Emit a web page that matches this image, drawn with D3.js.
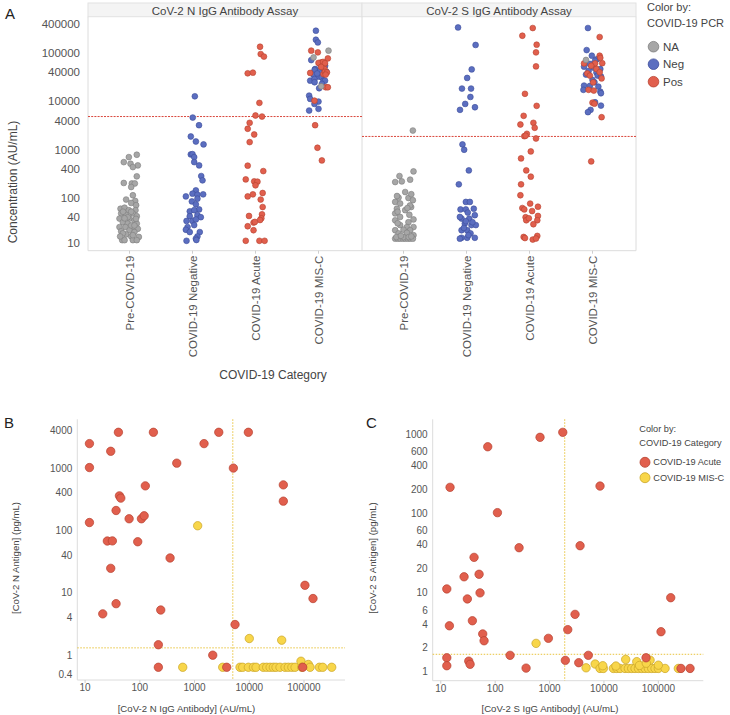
<!DOCTYPE html>
<html><head><meta charset="utf-8">
<script src="https://cdn.jsdelivr.net/npm/d3@7"></script>
<style>body{margin:0;background:#fff;} svg text{font-family:"Liberation Sans",Arial,sans-serif;}</style>
</head><body><svg id="c" width="730" height="715"></svg>
<script>
// ---------------- DATA ----------------
const categories = ["Pre-COVID-19","COVID-19 Negative","COVID-19 Acute","COVID-19 MIS-C"];
const assays = ["CoV-2 N IgG Antibody Assay","CoV-2 S IgG Antibody Assay"];
const pcrLevels = ["NA","Neg","Pos"];
const yTicksA = [10,40,100,400,1000,4000,10000,40000,100000,400000];
const cutoffsA = [4870,1885];
// [concentration, jitter(-1..1)]
const nPreNA = [[788,0.56],[703,-0.05],[554,-0.44],[513,0.08],[474,0.64],[437,0.26],[281,0.56],[205,-0.44],[200,0.18],[200,0.41],[169,0.13],[114,0.26],[93,-0.26],[87,0.44],[79,0.13],[71,0.51],[60,-0.69],[63,-0.38],[56,-0.05],[56,0.46],[48,-0.64],[44,-0.26],[48,0.26],[42,0.56],[37.5,-0.77],[37.5,0],[34.5,0.38],[31.5,-0.51],[29.5,-0.13],[29.5,0.56],[25,-0.77],[25,-0.31],[24.5,0.26],[23,0.64],[20.5,-0.64],[21.5,0],[19.7,0.38],[17.6,-0.26],[15.6,0.72],[16,0.13],[13.4,-0.56],[13.4,-0.38],[13.4,0.26],[13.4,0.56],[52,-0.5],[52,0.13],[40,-0.13],[37,0.5],[38,-0.38],[27,0.13],[18.5,-0.51],[17,0.26],[16,-0.72],[27,0.38]];
const nNegNeg = [[12800,0.18],[4640,0.02],[3220,0.5],[1880,-0.13],[1480,0.26],[1290,0.85],[800,-0.13],[810,0.0],[703,0.13],[555,0.13],[474,0.51],[285,0.67],[232,0.77],[144,0.26],[123,0.0],[117,0.38],[119,0.82],[108,-0.51],[85,-0.05],[97,0.38],[74,0.26],[53,-0.21],[58,0.51],[56,0.13],[44,0.38],[42,-0.21],[40,0.64],[33.5,-0.46],[33.5,0.0],[36,0.26],[25,-0.38],[27.5,0.13],[22,-0.51],[19.7,-0.21],[19.7,0.56],[16,0.38],[14.4,0.26],[13,-0.46],[13.5,0.3]];
const nAcutePos = [[136000,0.35],[96000,0.4],[85000,0.65],[38300,-0.6],[39500,-0.2],[9350,0.3],[5120,0.0],[4870,0.5],[3610,-0.45],[2720,-0.6],[2070,-0.1],[1440,-0.45],[468,-0.6],[361,0.6],[243,-0.75],[221,-0.1],[218,0.15],[183,0.0],[108,-0.6],[119,-0.2],[127,0.55],[93,0.4],[65,0.55],[46,0.5],[38,0.45],[35,0.35],[42.5,-0.5],[31,-0.15],[32,-0.05],[26,-0.6],[21.5,-0.15],[13,-0.75],[13,0.3],[13,0.7]];
const nMiscNeg = [[292000,-0.2],[190000,-0.2],[167000,-0.05],[72000,-0.56],[55000,0.51],[47000,-0.26],[43500,0.13],[45000,-0.3],[41500,0.6],[35500,-0.38],[32700,0.0],[31600,0.25],[27000,-0.64],[29200,-0.31],[27000,0.38],[25000,-0.3],[27000,0.5],[23200,0.26],[18800,0.05],[13200,-0.72],[11300,-0.64],[9950,0.0],[8900,-0.31],[6490,-0.72],[7030,0.0],[38000,-0.1],[50000,0.3],[60000,0.1]];
const nMiscPos = [[113000,-0.56],[104000,-0.05],[78000,0.72],[64500,0.21],[63000,0.0],[66000,0.35],[62000,0.5],[47000,0.46],[39000,-0.64],[37000,0.38],[41000,0.5],[40000,0.65],[36000,0.55],[19700,0.56],[19700,0.72],[10400,-0.31],[3220,-0.26],[1100,-0.08],[600,0.26],[52000,0.2]];
const nMiscNA = [[113000,0.77],[81800,-0.38],[20600,0.21]];
const sPreNA = [[2500,0.72],[356,0.77],[285,-0.31],[214,-0.64],[221,-0.13],[240,0.51],[133,0.13],[102,-0.38],[100,0.38],[90,0.72],[65,0.59],[83,-0.64],[77,-0.26],[60,-0.51],[56,0.13],[48,-0.64],[36,0.77],[40.5,-0.26],[34.5,-0.64],[31.5,0.38],[25,0.77],[27.5,-0.26],[25,0.26],[21.5,-0.64],[22,0.0],[21.5,0.51],[18.5,-0.38],[19,0.26],[17,0.77],[14.4,-0.64],[14.4,-0.44],[14.4,-0.26],[14.4,-0.05],[14.4,0.13],[14.4,0.33],[14.4,0.51],[14.4,0.72],[15.5,-0.55],[15.5,0.0],[15.5,0.4],[16.5,-0.2],[16,0.6],[70,0.5],[45,0.45],[52,-0.45],[30,-0.45],[62,0.3],[110,-0.5],[120,0.6]];
const sNegNeg = [[341000,-0.65],[148000,0.7],[46200,0.4],[30700,0.05],[18500,-0.35],[18500,0.35],[12400,0.3],[8900,-0.1],[6700,-0.5],[7590,0.65],[1290,-0.31],[1000,-0.18],[373,0.18],[192,-0.59],[83,-0.05],[83,0.26],[58,-0.46],[58,-0.05],[60,0.56],[37.5,-0.38],[37.5,0.21],[44,0.64],[40.5,-0.51],[27.5,0.38],[27.5,0.72],[21.5,-0.38],[21.5,0.05],[29.5,-0.13],[15,-0.38],[15,0.05],[15,0.64],[14.4,-0.51],[18.5,0.31],[31.5,0.46],[50,0.1],[24,-0.2],[17,0.15],[33,-0.05]];
const sAcutePos = [[332000,0.25],[230000,-0.55],[150000,0.55],[104000,0.5],[53300,0.5],[14400,-0.35],[8110,0.55],[5040,-0.45],[3330,-0.7],[3610,0.3],[2850,0.4],[2140,-0.2],[1910,-0.4],[1950,-0.3],[1710,0.5],[922,0.1],[661,-0.65],[373,-0.25],[277,0.1],[192,-0.65],[114,-0.7],[62,-0.55],[58,-0.4],[76.6,0.05],[66,0.65],[53.7,0.2],[40,-0.3],[34.6,-0.25],[42.5,0.65],[34.6,0.6],[28.6,0.3],[38,-0.05],[15.6,-0.45],[14.8,-0.35],[13.8,0.25],[16.4,0.6],[14.5,0.5]];
const sMiscNeg = [[332000,-0.35],[116000,-0.45],[88700,-0.05],[75000,0.35],[60000,-0.2],[52600,-0.65],[50000,0.1],[47100,0.6],[43000,-0.3],[40000,0.3],[36000,-0.5],[34300,0.4],[33000,0.65],[28000,0.0],[21300,-0.65],[20300,0.45],[21000,-0.2],[17400,-0.7],[16000,0.6],[14800,0.65],[8200,0.65],[6700,-0.15],[9620,0.2],[6000,-0.35],[25000,0.15],[70000,0.2]];
const sMiscPos = [[216000,0.55],[88700,0.55],[80000,0.6],[61500,-0.65],[61500,0.2],[62000,0.75],[55000,-0.1],[47100,0.3],[40300,0.55],[38000,-0.4],[34300,-0.2],[30000,0.7],[24900,0.05],[17400,-0.3],[16800,0.1],[9450,0.0],[9000,0.15],[4720,0.7],[573,-0.1]];
const sMiscNA = [[72400,-0.5]];

// Panel B: [N IgG antibody (AU/mL), N antigen (pg/mL)]
const bAcute = [[40.6,3750],[177,3750],[2770,3750],[9620,3750],[12,2470],[1490,2470],[29.4,1860],[12,1020],[473,1200],[5120,1000],[126,519],[41900,538],[42.4,359],[44.9,330],[41900,295],[36.8,209],[63.7,154],[107,154],[120,172],[12,134],[25.5,67.7],[31.5,68],[91.5,65.9],[357,36.2],[29.4,24.7],[36.8,6.7],[21,4.6],[241,5.3],[104000,13.2],[146000,8.1],[5490,3.1],[218,1.47],[2150,1.0],[218,0.64],[3870,0.64],[94600,0.64]];
const bMisc = [[1140,119],[10000,1.85],[39100,1.74],[88100,0.8],[120000,0.71],[608,0.64],[3270,0.64],[6770,0.64],[7580,0.64],[9620,0.64],[11900,0.64],[13300,0.64],[18000,0.64],[20800,0.64],[24000,0.64],[27500,0.64],[30800,0.64],[36400,0.64],[45000,0.64],[51700,0.64],[60000,0.64],[68600,0.64],[90700,0.64],[129000,0.64],[191000,0.64],[220000,0.64],[321000,0.64]];
// Panel C: [S IgG antibody (AU/mL), S antigen (pg/mL)]
const cAcute = [[1750,1054],[668,912],[73,693],[14.8,213],[8470,221],[110,102],[275,36.8],[3640,39],[40.9,27.8],[50.6,17],[26.8,15.8],[12.9,11.1],[52.7,9.9],[30.8,8.3],[169000,8.6],[2940,5.3],[38.1,4.4],[14.4,3.8],[2160,3.4],[112000,3.2],[59,3.0],[62.5,2.46],[951,2.64],[188,1.61],[5160,1.61],[12.9,1.5],[59400,1.5],[1950,1.39],[32.7,1.36],[3440,1.3],[34.6,1.24],[12.9,1.19],[370,1.11],[261000,1.1],[383000,1.1]];
const cMisc = [[565,2.28],[4690,1.12],[6890,1.25],[8470,1.1],[9750,1.1],[14900,1.1],[17200,1.1],[19800,1.1],[24400,1.1],[28100,1.1],[32400,1.1],[37300,1.1],[43000,1.1],[49500,1.1],[57000,1.1],[65500,1.1],[75600,1.1],[86900,1.1],[100000,1.1],[133000,1.1],[233000,1.1],[25100,1.43],[40100,1.34],[70500,1.4],[100000,1.21],[9510,1.19],[16600,1.18],[45000,1.2],[60000,1.28]];
const xTicksBC = [10,100,1000,10000,100000];
const yTicksB = [0.4,1,4,10,40,100,400,1000,4000];
const yTicksC = [1,2,4,6,10,20,40,60,100,200,400,600,1000];
const cutB = [5000,1.31];
const cutC = [1900,1.66];
const catLevels = ["COVID-19 Acute","COVID-19 MIS-C"];

// ---------------- DRAW ----------------
const svg = d3.select("#c");
const fillPCR = d3.scaleOrdinal().domain(pcrLevels).range(["#a6a6a6","#5b6ec0","#e15f4d"]);
const strokePCR = d3.scaleOrdinal().domain(pcrLevels).range(["#7e7e7e","#3d4d9a","#b6412f"]);
const fillCat = d3.scaleOrdinal().domain(catLevels).range(["#e15f4d","#f8d64a"]);
const strokeCat = d3.scaleOrdinal().domain(catLevels).range(["#b6412f","#c9a426"]);
const tickCol = "#555", titleCol = "#444", axisCol = "#dcdcdc";

// Panel A
const aTop = 16.7, aBot = 250.7;
const yA = d3.scaleLog().domain([8.1,570000]).range([aBot,aTop]);
const panelX = d3.scaleBand().domain(assays).range([88,636]);
const xCat = d3.scalePoint().domain(categories).range([41.5,230.5]);
const jit = d3.scaleLinear().domain([-1,1]).range([-13,13]);

const gA = svg.append("g");
assays.forEach(a=>{
  gA.append("rect").attr("x",panelX(a)).attr("y",3).attr("width",panelX.bandwidth()).attr("height",aTop-3)
    .attr("fill","#f4f4f4").attr("stroke","#e2e2e2").attr("stroke-width",1);
  gA.append("text").attr("x",panelX(a)+panelX.bandwidth()/2).attr("y",10.5).attr("text-anchor","middle")
    .attr("dominant-baseline","central").attr("font-size","11.5px").attr("fill",titleCol).text(a);
});
[88,362,636].forEach(x=>gA.append("line").attr("x1",x).attr("x2",x).attr("y1",aTop).attr("y2",aBot).attr("stroke",axisCol));
gA.append("line").attr("x1",88).attr("x2",636).attr("y1",aBot).attr("y2",aBot).attr("stroke",axisCol);

yTicksA.forEach(v=>{
  gA.append("text").attr("x",80).attr("y",Math.min(yA(v),aBot-8)).attr("text-anchor","end")
    .attr("dominant-baseline","central").attr("font-size","11.5px").attr("fill",tickCol).text(v);
});
assays.forEach((a,i)=>{
  gA.append("line").attr("x1",panelX(a)).attr("x2",panelX(a)+panelX.bandwidth())
    .attr("y1",yA(cutoffsA[i])).attr("y2",yA(cutoffsA[i])).attr("stroke","#d9473c").attr("stroke-width",1).attr("stroke-dasharray","2,1.2");
  categories.forEach(c=>{
    const cx = panelX(a)+xCat(c);
    gA.append("line").attr("x1",cx).attr("x2",cx).attr("y1",aBot).attr("y2",aBot+3).attr("stroke","#cfcfcf");
    gA.append("text").attr("transform",`translate(${cx},${aBot+5}) rotate(-90)`).attr("text-anchor","end")
      .attr("dominant-baseline","central").attr("font-size","11.5px").attr("fill",tickCol).text(c);
  });
});

const groupsA = [
  [0,0,"NA",nPreNA],[0,1,"Neg",nNegNeg],[0,2,"Pos",nAcutePos],[0,3,"Neg",nMiscNeg],[0,3,"Pos",nMiscPos],[0,3,"NA",nMiscNA],
  [1,0,"NA",sPreNA],[1,1,"Neg",sNegNeg],[1,2,"Pos",sAcutePos],[1,3,"Neg",sMiscNeg],[1,3,"Pos",sMiscPos],[1,3,"NA",sMiscNA]
];
groupsA.forEach(([ai,ci,p,pts])=>{
  const x0 = panelX(assays[ai])+xCat(categories[ci]);
  gA.append("g").selectAll("circle").data(pts).join("circle")
    .attr("cx",d=>x0+jit(d[1])).attr("cy",d=>yA(d[0])).attr("r",2.9)
    .attr("fill",fillPCR(p)).attr("stroke",strokePCR(p)).attr("stroke-width",0.6);
});
gA.append("text").attr("transform","translate(13,182) rotate(-90)").attr("text-anchor","middle")
  .attr("dominant-baseline","central").attr("font-size","12px").attr("fill",titleCol).text("Concentration (AU/mL)");
gA.append("text").attr("x",273).attr("y",375).attr("text-anchor","middle").attr("dominant-baseline","central")
  .attr("font-size","12px").attr("fill",titleCol).text("COVID-19 Category");
gA.append("text").attr("x",5).attr("y",13.5).attr("dominant-baseline","central").attr("font-size","15px").attr("fill","#222").text("A");
// legend A
gA.append("text").attr("x",647).attr("y",6.5).attr("dominant-baseline","central").attr("font-size","11px").attr("fill",titleCol).text("Color by:");
gA.append("text").attr("x",647).attr("y",22.5).attr("dominant-baseline","central").attr("font-size","11px").attr("fill",titleCol).text("COVID-19 PCR");
const legY = d3.scalePoint().domain(pcrLevels).range([46.7,81.7]);
pcrLevels.forEach(p=>{
  gA.append("circle").attr("cx",653.5).attr("cy",legY(p)).attr("r",5.3).attr("fill",fillPCR(p)).attr("stroke",strokePCR(p)).attr("stroke-width",0.8);
  gA.append("text").attr("x",663).attr("y",legY(p)).attr("dominant-baseline","central").attr("font-size","11.5px").attr("fill",titleCol).text(p);
});

// Scatter panels B and C
function scatter(opt){
  const g = svg.append("g");
  const x = d3.scaleLog().domain(opt.xd).range([opt.l,opt.r]);
  const y = d3.scaleLog().domain(opt.yd).range([opt.b,opt.t]);
  g.append("line").attr("x1",opt.l).attr("x2",opt.l).attr("y1",opt.t).attr("y2",opt.b).attr("stroke",axisCol);
  g.append("line").attr("x1",opt.l).attr("x2",opt.r).attr("y1",opt.b).attr("y2",opt.b).attr("stroke",axisCol);
  xTicksBC.forEach(v=>{
    g.append("line").attr("x1",x(v)).attr("x2",x(v)).attr("y1",opt.b).attr("y2",opt.b+3).attr("stroke","#cfcfcf");
    g.append("text").attr("x",x(v)).attr("y",opt.b+7.5).attr("text-anchor","middle").attr("dominant-baseline","central")
      .attr("font-size","10px").attr("fill",tickCol).text(v);
  });
  opt.yt.forEach(v=>{
    g.append("text").attr("x",opt.l-5).attr("y",Math.min(y(v),opt.b-6)).attr("text-anchor","end").attr("dominant-baseline","central")
      .attr("font-size","10px").attr("fill",tickCol).text(v);
  });
  g.append("line").attr("x1",x(opt.cut[0])).attr("x2",x(opt.cut[0])).attr("y1",opt.t).attr("y2",opt.b)
    .attr("stroke","#e8c33c").attr("stroke-width",1).attr("stroke-dasharray","1.5,1.5");
  g.append("line").attr("x1",opt.l).attr("x2",opt.r).attr("y1",y(opt.cut[1])).attr("y2",y(opt.cut[1]))
    .attr("stroke","#e8c33c").attr("stroke-width",1).attr("stroke-dasharray","1.5,1.5");
  [[catLevels[1],opt.misc],[catLevels[0],opt.acute]].forEach(([c,pts])=>{
    g.append("g").selectAll("circle").data(pts).join("circle")
      .attr("cx",d=>x(d[0])).attr("cy",d=>y(d[1])).attr("r",4.2)
      .attr("fill",fillCat(c)).attr("stroke",strokeCat(c)).attr("stroke-width",0.7);
  });
  g.append("text").attr("transform",`translate(${opt.ytx},558) rotate(-90)`).attr("text-anchor","middle")
    .attr("dominant-baseline","central").attr("font-size","9.6px").attr("fill",titleCol).text(opt.ytitle);
  g.append("text").attr("x",opt.xtx).attr("y",708.5).attr("text-anchor","middle").attr("dominant-baseline","central")
    .attr("font-size","9.6px").attr("fill",titleCol).text(opt.xtitle);
  g.append("text").attr("x",opt.lx).attr("y",422.5).attr("dominant-baseline","central").attr("font-size","15px").attr("fill","#222").text(opt.letter);
  return g;
}
scatter({xd:[7.2,561000],yd:[0.4,6060],l:77.3,r:345,t:419.3,b:680,yt:yTicksB,cut:cutB,acute:bAcute,misc:bMisc,
  ytx:15,xtx:186.5,ytitle:"[CoV-2 N Antigen] (pg/mL)",xtitle:"[CoV-2 N IgG Antibody] (AU/mL)",letter:"B",lx:4});
const gC = scatter({xd:[7.1,671000],yd:[0.77,1540],l:432.7,r:703.3,t:419.3,b:680.7,yt:yTicksC,cut:cutC,acute:cAcute,misc:cMisc,
  ytx:372.7,xtx:550,ytitle:"[CoV-2 S Antigen] (pg/mL)",xtitle:"[CoV-2 S IgG Antibody] (AU/mL)",letter:"C",lx:366});
// legend C
gC.append("text").attr("x",639.3).attr("y",429.3).attr("dominant-baseline","central").attr("font-size","9.2px").attr("fill",titleCol).text("Color by:");
gC.append("text").attr("x",639.3).attr("y",442.7).attr("dominant-baseline","central").attr("font-size","9.2px").attr("fill",titleCol).text("COVID-19 Category");
const legC = d3.scalePoint().domain(catLevels).range([462.3,477.7]);
catLevels.forEach(c=>{
  gC.append("circle").attr("cx",645).attr("cy",legC(c)).attr("r",5).attr("fill",fillCat(c)).attr("stroke",strokeCat(c)).attr("stroke-width",0.8);
  gC.append("text").attr("x",653.3).attr("y",legC(c)).attr("dominant-baseline","central").attr("font-size","9.2px").attr("fill",titleCol).text(c);
});
</script></body></html>
